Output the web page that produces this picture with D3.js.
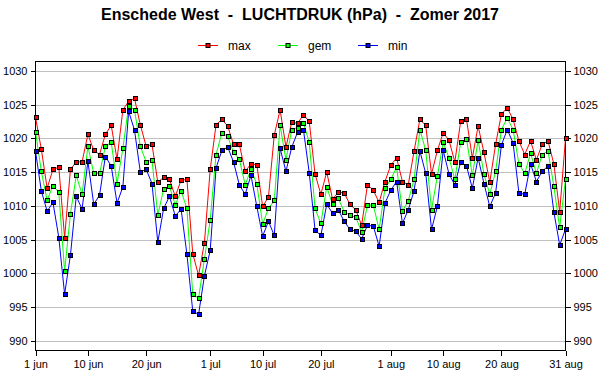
<!DOCTYPE html>
<html>
<head>
<meta charset="utf-8">
<script src="https://cdn.jsdelivr.net/npm/d3@7"></script>
<style>
  body { margin: 0; background: #fff; }
  text { font-family: Arial, "Liberation Sans", sans-serif; }
</style>
</head>
<body>
<div id="chart"></div>
<script>
// dagwaarden 1 jun t/m 31 aug 2017
var maxValues = [
  1023.1, 1018.4, 1012.6, 1015.4, 1015.7, 1005.3, 1015.4, 1016.5, 1016.5, 1020.6,
  1018.2, 1017.6, 1020.6, 1021.9, 1016.9, 1024.2, 1025.5, 1025.9, 1022.0, 1018.8,
  1019.1, 1013.5, 1014.2, 1013.9, 1011.4, 1013.8, 1013.9, 1002.9, 999.7, 1004.5,
  1015.4, 1022.0, 1022.8, 1021.8, 1019.1, 1019.1, 1015.1, 1016.2, 1016.1, 1009.9,
  1011.3, 1020.5, 1024.2, 1018.7, 1022.4, 1022.2, 1023.5, 1022.5, 1014.7, 1011.7,
  1015.0, 1011.0, 1012.0, 1011.9, 1010.2, 1009.4, 1007.1, 1013.1, 1012.3, 1010.5,
  1013.6, 1016.0, 1017.1, 1013.6, 1013.1, 1018.1, 1022.8, 1021.9, 1014.7, 1018.2,
  1020.8, 1019.7, 1016.5, 1022.5, 1022.8, 1017.1, 1021.8, 1017.9, 1013.5, 1019.1,
  1023.6, 1024.5, 1022.8, 1019.6, 1017.6, 1019.6, 1016.8, 1019.1, 1019.6, 1016.2,
  1009.1, 1020.0
];
var gemValues = [
  1021.0, 1015.1, 1010.8, 1013.0, 1012.0, 1000.3, 1008.8, 1014.5, 1011.7, 1018.8,
  1014.8, 1014.8, 1018.8, 1019.4, 1013.3, 1018.5, 1024.8, 1024.2, 1018.8, 1016.5,
  1016.8, 1008.6, 1012.5, 1012.9, 1010.1, 1012.2, 1009.6, 996.9, 996.3, 1002.1,
  1007.9, 1017.6, 1020.8, 1020.3, 1017.9, 1016.9, 1013.1, 1015.4, 1013.2, 1007.3,
  1009.6, 1010.8, 1021.9, 1016.8, 1021.3, 1021.6, 1022.3, 1019.4, 1009.6, 1007.4,
  1012.8, 1010.2, 1011.1, 1009.1, 1008.6, 1008.3, 1006.1, 1010.1, 1010.1, 1006.5,
  1012.6, 1013.9, 1015.7, 1009.2, 1010.7, 1013.9, 1021.3, 1018.2, 1009.4, 1014.4,
  1019.4, 1017.1, 1013.9, 1019.4, 1019.9, 1014.5, 1019.7, 1014.7, 1011.7, 1015.1,
  1021.3, 1023.0, 1021.3, 1016.2, 1014.8, 1017.8, 1014.8, 1017.6, 1018.1, 1012.9,
  1006.8, 1013.9
];
var minValues = [
  1018.1, 1012.2, 1009.2, 1010.5, 1005.3, 996.9, 1002.7, 1011.4, 1009.5, 1016.6,
  1010.2, 1011.6, 1017.3, 1015.9, 1010.4, 1012.8, 1024.0, 1021.2, 1015.0, 1015.4,
  1013.3, 1004.6, 1009.6, 1011.4, 1008.5, 1009.5, 1002.8, 994.4, 993.9, 999.6,
  1003.4, 1015.6, 1018.2, 1018.7, 1016.5, 1013.1, 1011.7, 1014.5, 1009.9, 1005.5,
  1007.7, 1005.6, 1018.5, 1015.1, 1018.7, 1020.9, 1021.3, 1014.9, 1006.4, 1005.6,
  1010.2, 1008.9, 1009.4, 1007.7, 1006.5, 1006.2, 1005.1, 1007.1, 1007.0, 1004.0,
  1010.4, 1012.3, 1013.6, 1007.4, 1009.4, 1012.2, 1018.1, 1014.8, 1006.5, 1009.9,
  1018.2, 1014.7, 1013.1, 1016.5, 1015.9, 1012.6, 1017.1, 1013.3, 1009.9, 1011.9,
  1019.0, 1021.3, 1019.3, 1011.9, 1011.7, 1016.2, 1013.6, 1015.1, 1015.9, 1009.1,
  1004.2, 1006.5
];

var seriesNames = ["max", "gem", "min"];
var seriesColors = ["#ff0000", "#00ff00", "#0000ff"];
var yTicks = [990, 995, 1000, 1005, 1010, 1015, 1020, 1025, 1030];
var xTickDays = [1, 10, 20, 1, 10, 20, 1, 10, 20, 31];
var xTickMonths = [5, 5, 5, 6, 6, 6, 7, 7, 7, 7];
var monthNames = { 5: "jun", 6: "jul", 7: "aug" };

(function () {
  var width = 600,
    height = 390;

  var plotLeft = 35.5,
    plotRight = 565.5,
    plotTop = 61.5,
    plotBottom = 350.5;

  var startDate = new Date(2017, 5, 1);
  var dates = maxValues.map(function (v, i) {
    return d3.timeDay.offset(startDate, i);
  });

  var x = d3
    .scaleTime()
    .domain([startDate, new Date(2017, 7, 31)])
    .range([plotLeft, plotRight]);

  var y = d3.scaleLinear().domain([988.56, 1031.38]).range([plotBottom, plotTop]);

  var svg = d3
    .select("#chart")
    .append("svg")
    .attr("width", width)
    .attr("height", height);

  svg
    .append("text")
    .attr("x", 300)
    .attr("y", 20)
    .attr("text-anchor", "middle")
    .style("font-size", "16px")
    .style("font-weight", "bold")
    .style("white-space", "pre")
    .attr("fill", "#000")
    .text("Enschede West  -  LUCHTDRUK (hPa)  -  Zomer 2017");

  // legenda
  var legend = svg
    .selectAll(".legendItem")
    .data(seriesNames)
    .enter()
    .append("g")
    .attr("class", "legendItem")
    .attr("transform", function (d, i) {
      return "translate(" + (198 + i * 80) + ",45.5)";
    });

  legend
    .append("line")
    .attr("x1", 0)
    .attr("x2", 20)
    .attr("stroke", function (d, i) {
      return seriesColors[i];
    });

  legend
    .append("rect")
    .attr("x", 8)
    .attr("y", -2)
    .attr("width", 4)
    .attr("height", 4)
    .attr("fill", function (d, i) {
      return seriesColors[i];
    })
    .attr("stroke", "#000");

  legend
    .append("text")
    .attr("x", 30)
    .attr("y", 4.5)
    .style("font-size", "12px")
    .text(function (d) {
      return d;
    });

  // rasterlijnen
  svg
    .selectAll(".grid")
    .data(yTicks)
    .enter()
    .append("line")
    .attr("class", "grid")
    .attr("x1", plotLeft)
    .attr("x2", plotRight)
    .attr("y1", function (d) {
      return Math.round(y(d)) + 0.5;
    })
    .attr("y2", function (d) {
      return Math.round(y(d)) + 0.5;
    })
    .attr("stroke", "#c0c0c0");

  // assen
  var tickDates = xTickDays.map(function (d, i) {
    return new Date(2017, xTickMonths[i], d);
  });

  var xAxis = d3
    .axisBottom(x)
    .tickValues(tickDates)
    .tickSize(5)
    .tickFormat(function (d) {
      return d.getDate() + " " + monthNames[d.getMonth()];
    });

  var yLeft = d3.axisLeft(y).tickValues(yTicks).tickSize(5).tickFormat(d3.format("d"));
  var yRight = d3.axisRight(y).tickValues(yTicks).tickSize(5).tickFormat(d3.format("d"));

  function styleAxis(g) {
    g.select(".domain").remove();
    g.selectAll("line").attr("stroke", "#000").attr("shape-rendering", "crispEdges");
    g.selectAll("text")
      .style("font-size", "11px")
      .attr("fill", "#000")
      .style("font-family", "Arial, 'Liberation Sans', sans-serif");
  }

  svg
    .append("g")
    .attr("transform", "translate(0," + plotBottom + ")")
    .call(xAxis)
    .call(styleAxis)
    .selectAll("text")
    .attr("dy", "0.9em");

  svg
    .append("g")
    .attr("transform", "translate(" + plotLeft + ",0)")
    .call(yLeft)
    .call(styleAxis);

  svg
    .append("g")
    .attr("transform", "translate(" + plotRight + ",0)")
    .call(yRight)
    .call(styleAxis);

  svg
    .append("rect")
    .attr("x", plotLeft)
    .attr("y", plotTop)
    .attr("width", plotRight - plotLeft)
    .attr("height", plotBottom - plotTop)
    .attr("fill", "none")
    .attr("stroke", "#000");

  // lijnen en punten
  var allSeries = [maxValues, gemValues, minValues];

  var line = d3
    .line()
    .x(function (d, i) {
      return x(dates[i]);
    })
    .y(function (d) {
      return y(d);
    });

  allSeries.forEach(function (values, s) {
    svg
      .append("path")
      .datum(values)
      .attr("fill", "none")
      .attr("stroke", seriesColors[s])
      .attr("stroke-width", 1)
      .attr("d", line);
  });

  allSeries.forEach(function (values, s) {
    svg
      .selectAll(".dot" + s)
      .data(values)
      .enter()
      .append("rect")
      .attr("class", "dot" + s)
      .attr("x", function (d, i) {
        return Math.round(x(dates[i])) - 2;
      })
      .attr("y", function (d) {
        return Math.round(y(d)) - 2;
      })
      .attr("width", 4)
      .attr("height", 4)
      .attr("fill", seriesColors[s])
      .attr("stroke", "#000")
      .attr("shape-rendering", "crispEdges");
  });
})();
</script>
</body>
</html>
